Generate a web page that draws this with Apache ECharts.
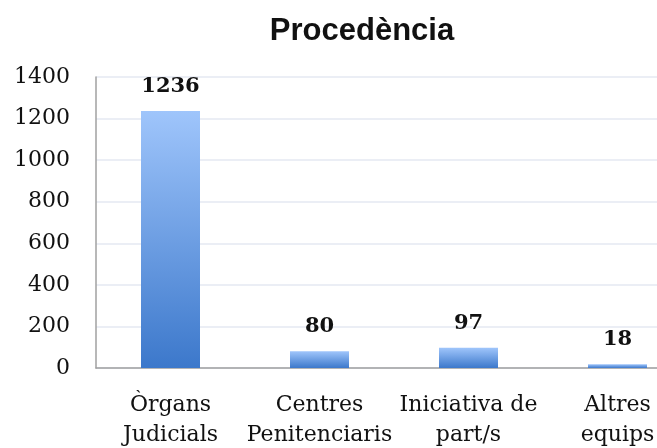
<!DOCTYPE html>
<html>
<head>
<meta charset="utf-8">
<style>html,body{margin:0;padding:0;background:#fff;}#c{width:657px;height:448px;}</style>
<script src="https://cdn.jsdelivr.net/npm/echarts@6/dist/echarts.min.js"></script>
</head>
<body>
<div id="c"></div>
<script>
const titleText = 'Procedència';
const categories = ['Òrgans\nJudicials', 'Centres\nPenitenciaris', 'Iniciativa de\npart/s', 'Altres\nequips'];
const values = [1236, 80, 97, 18];
const yTicks = { min: 0, max: 1400, interval: 200 };

const chart = echarts.init(document.getElementById('c'), null, { renderer: 'canvas' });
chart.setOption({
  animation: false,
  backgroundColor: '#ffffff',
  title: {
    text: titleText,
    left: 357, top: 11, textAlign: 'center',
    textStyle: { fontFamily: 'Liberation Sans', fontWeight: 'bold', fontSize: 31, color: '#111' }
  },
  grid: { left: 96, width: 596, top: 77, height: 291, containLabel: false, outerBoundsMode: 'none' },
  xAxis: {
    type: 'category',
    data: categories,
    axisLine: { lineStyle: { color: '#a0a0a0', width: 1.5 } },
    axisTick: { show: false },
    axisLabel: {
      interval: 0, margin: 22, lineHeight: 30,
      fontFamily: 'DejaVu Serif', fontSize: 22, color: '#111'
    }
  },
  yAxis: {
    type: 'value',
    min: yTicks.min, max: yTicks.max, interval: yTicks.interval,
    axisLine: { show: true, lineStyle: { color: '#a0a0a0', width: 1.5 } },
    axisTick: { show: false },
    axisLabel: { margin: 26, fontFamily: 'DejaVu Serif', fontSize: 22, color: '#111',
      formatter: v => String(v) },
    splitLine: { lineStyle: { color: '#e4e9f2', width: 1.5 } }
  },
  series: [{
    type: 'bar',
    data: values,
    barWidth: 59,
    itemStyle: {
      color: new echarts.graphic.LinearGradient(0, 0, 0, 1, [
        { offset: 0, color: '#9fc5fb' },
        { offset: 1, color: '#3c78cb' }
      ])
    },
    label: {
      show: true, position: 'top', distance: 14,
      fontFamily: 'DejaVu Serif', fontWeight: 'bold', fontSize: 21, color: '#111'
    }
  }]
});
</script>
</body>
</html>
